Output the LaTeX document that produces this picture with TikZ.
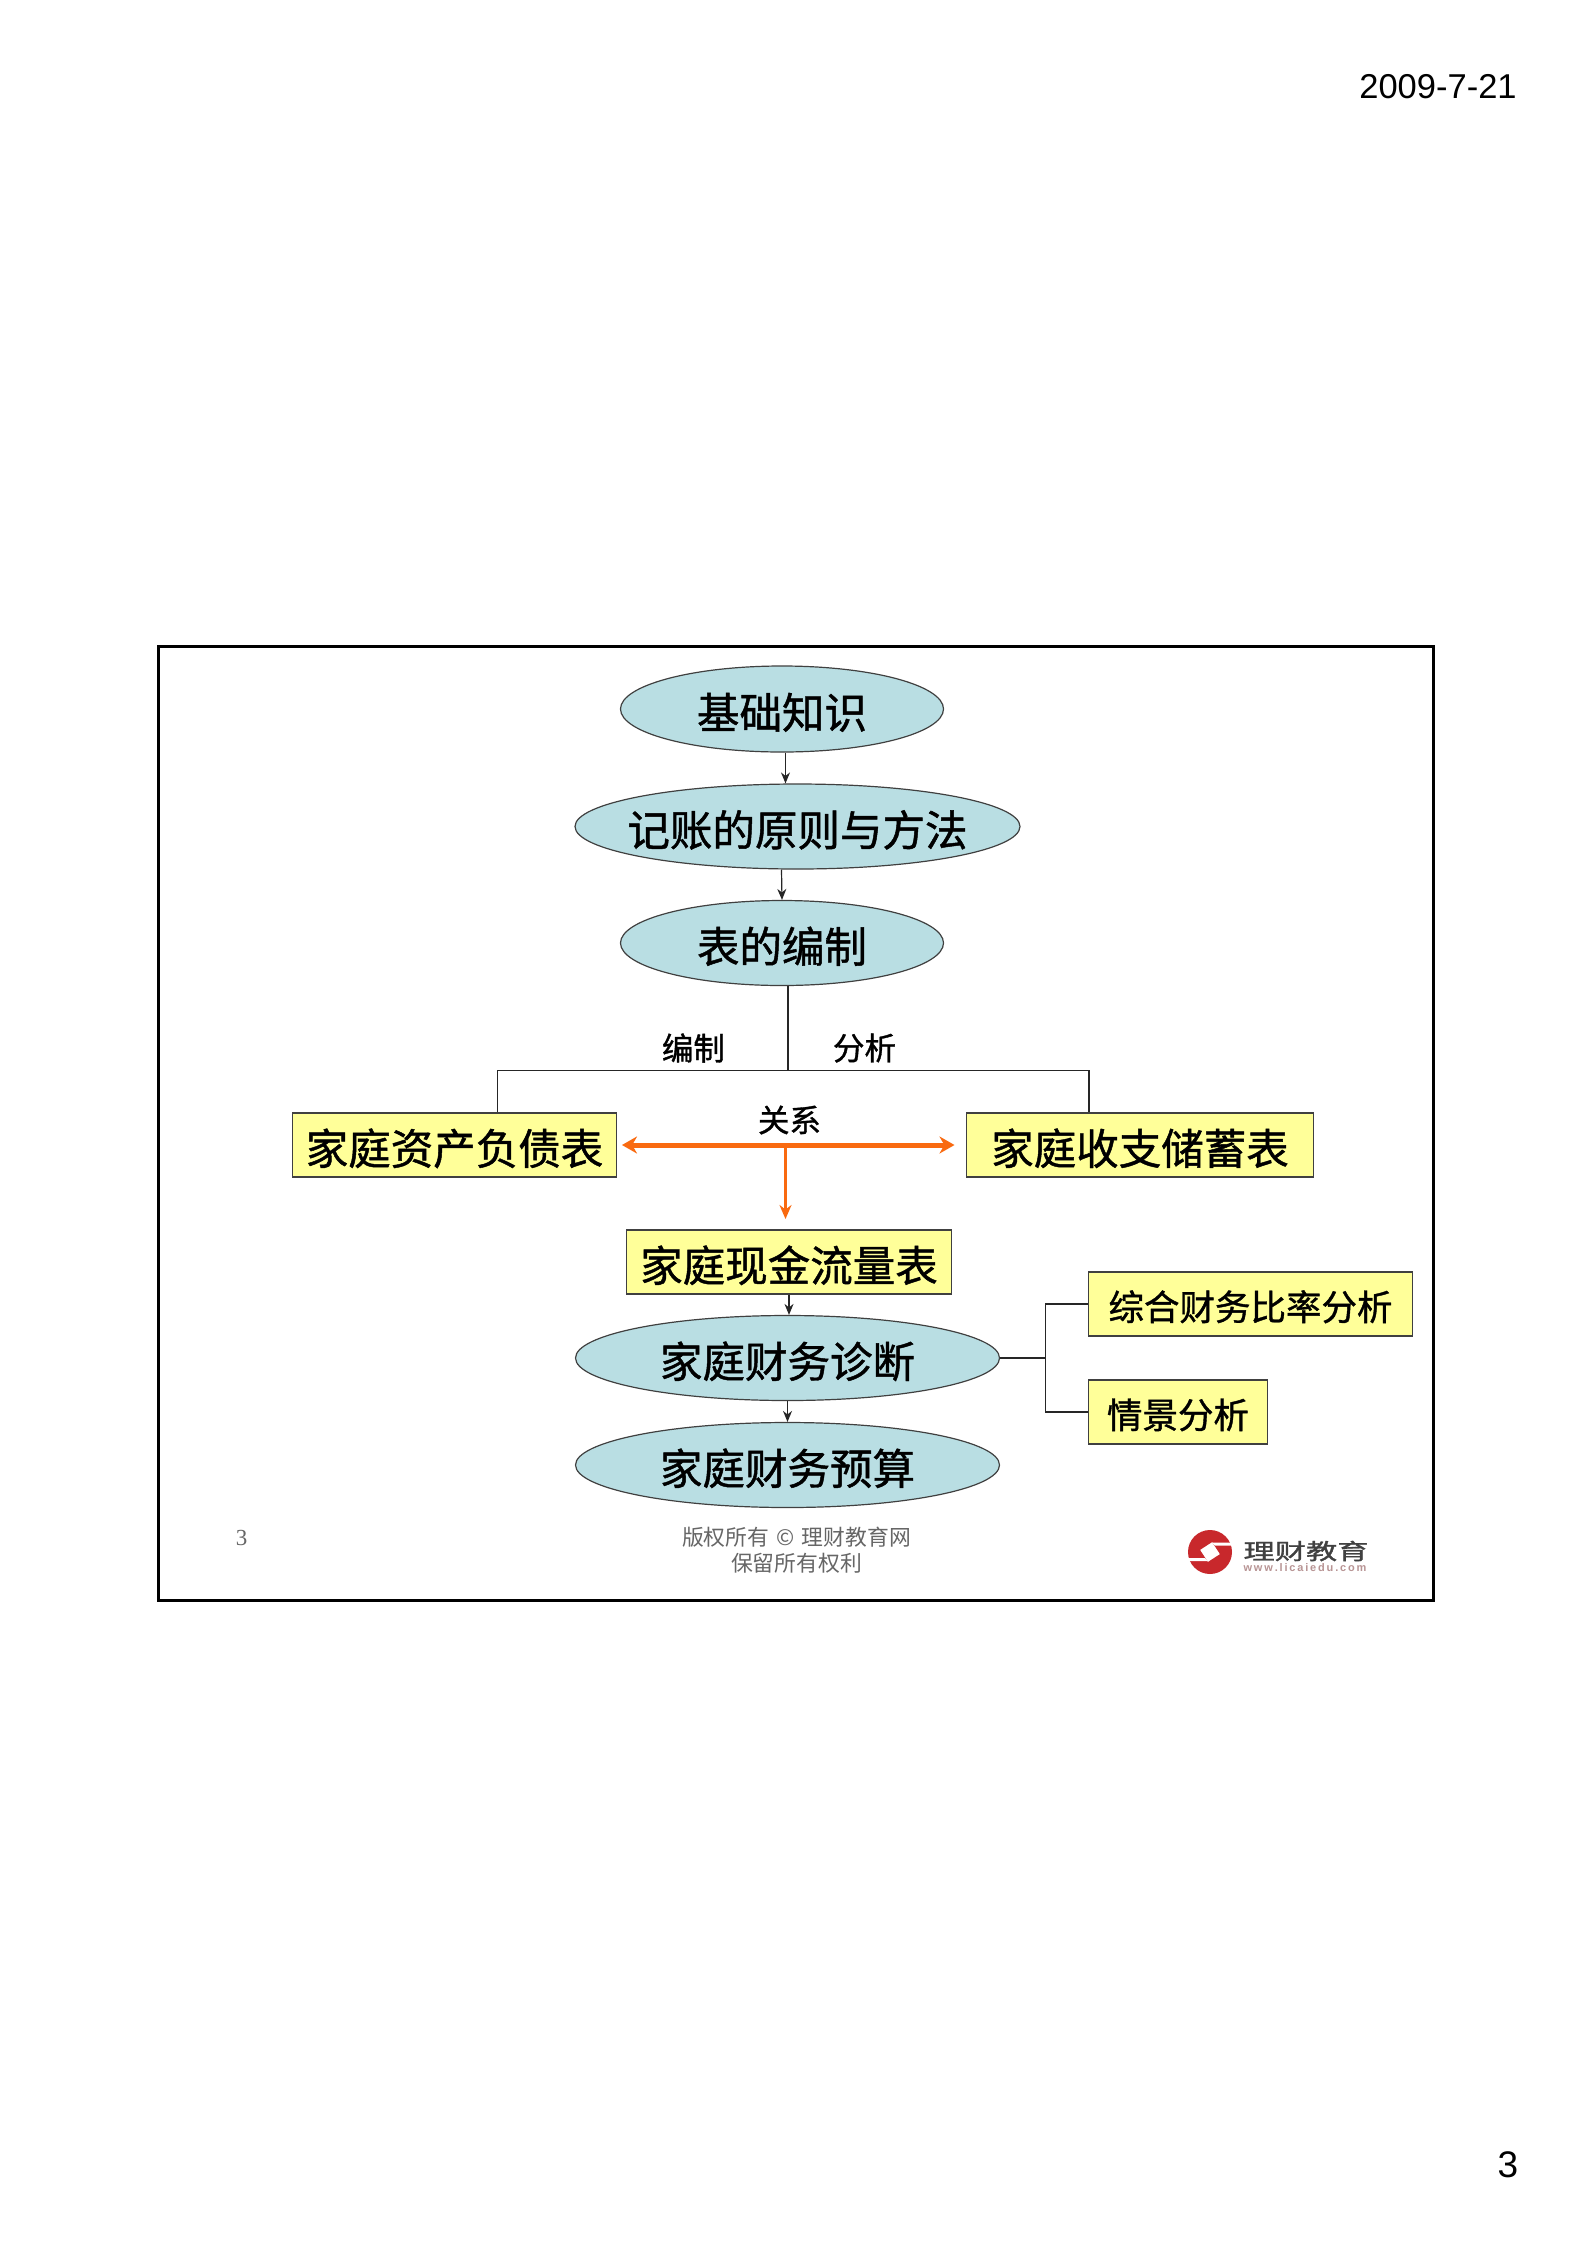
\documentclass[tikz,border=0pt]{standalone}
\usepackage{fontspec}
\setmainfont{Liberation Sans}
\newfontfamily\serifdigits{Liberation Serif}
\newfontfamily\cjk[FakeBold=1.1]{Noto Sans CJK SC}
\newfontfamily\cjkplain{Noto Sans CJK SC}
\usetikzlibrary{shapes.geometric,arrows.meta}
\definecolor{ovalfill}{HTML}{B9DEE3}
\definecolor{boxfill}{HTML}{FFFF99}
\definecolor{orangeline}{HTML}{F96A10}
\definecolor{edgegray}{HTML}{404040}
\definecolor{foot}{HTML}{666666}
\definecolor{logored}{HTML}{C8282C}
\definecolor{logoweb}{HTML}{B89494}
\newcommand{\zw}[1]{\makebox[0pt]{\raisebox{-0.46em}[0pt][0pt]{#1}}}
\tikzset{
 x=1pt,y=-1pt,
 oval/.style={ellipse,draw=edgegray,line width=1.2pt,fill=ovalfill,inner sep=0pt,text=black,font=\fontsize{42.5}{43}\cjk},
 yellowbox/.style={rectangle,draw=edgegray,line width=1.2pt,fill=boxfill,inner sep=0pt,minimum height=64pt,text=black,font=\fontsize{42.5}{43}\cjk},
 smallbox/.style={yellowbox,font=\fontsize{35.5}{36}\cjk},
 lab/.style={inner sep=0pt,font=\fontsize{31.5}{32}\cjk},
 footer/.style={inner sep=0pt,text=foot,font=\fontsize{21.8}{22}\cjkplain},
 conn/.style={draw=black!85,line width=1.2pt},
 arr/.style={conn,-{Stealth[length=11pt,width=9pt]}},
 orangearr/.style={draw=orangeline,line width=5pt,{Stealth[length=15pt,width=17pt]}-{Stealth[length=15pt,width=17pt]}},
 orangedown/.style={draw=orangeline,line width=3.4pt,-{Stealth[length=14pt,width=12pt]}},
}
\begin{document}
\begin{tikzpicture}
\useasboundingbox (0,0) rectangle (1594,2252);
\fill[white] (0,0) rectangle (1594,2252);
\node[inner sep=0pt,font=\fontsize{34.5}{35}\selectfont] (date) at (1438,87) {2009-7-21};
\node[inner sep=0pt,font=\fontsize{37}{37}\selectfont] (pg) at (1508,2165) {3};
\node[draw=black,line width=3pt,minimum width=1275pt,minimum height=954pt,inner sep=0pt] (frame) at (795.5,1123.5) {};

\begin{scope}[xshift=1.5pt]
\node[oval,minimum width=323pt,minimum height=86pt] (n1) at (780.5,709) {\zw{基础知识}};
\node[oval,minimum width=445pt,minimum height=85pt] (n2) at (796,826.5) {\zw{记账的原则与方法}};
\node[oval,minimum width=323pt,minimum height=85pt] (n3) at (780.5,943) {\zw{表的编制}};
\node[yellowbox,minimum width=324pt] (bl) at (453,1145) {\zw{家庭资产负债表}};
\node[yellowbox,minimum width=347pt] (br) at (1138.5,1145) {\zw{家庭收支储蓄表}};
\node[yellowbox,minimum width=325pt] (bc) at (787.5,1262) {\zw{家庭现金流量表}};
\node[oval,minimum width=424pt,minimum height=85pt] (n4) at (786,1358) {\zw{家庭财务诊断}};
\node[oval,minimum width=424pt,minimum height=85pt] (n5) at (786,1465) {\zw{家庭财务预算}};
\node[smallbox,minimum width=324pt] (r1) at (1249,1304) {\zw{综合财务比率分析}};
\node[smallbox,minimum width=179pt] (r2) at (1176.5,1412) {\zw{情景分析}};

\node[lab] (l1) at (692,1048) {编制};
\node[lab] (l2) at (863,1048) {分析};
\node[lab] (l3) at (788,1120) {关系};

\draw[arr] ([xshift=3.5pt]n1.south) -- ([xshift=-12pt]n2.north);
\draw[arr] ([xshift=-16pt]n2.south) -- (n3.north);
\coordinate (tj) at (786.5,1070.5);
\coordinate (tl) at (496,1070.5);
\coordinate (tr) at (1087.5,1070.5);
\draw[conn] ([xshift=6pt]n3.south) -- (tj);
\draw[conn] (bl.north -| tl) -- (tl) -- (tr) -- (br.north -| tr);
\draw[arr] (bc.south) -- ([xshift=1.5pt]n4.north);
\draw[arr] (n4.south) -- (n5.north);
\coordinate (jn) at (1044,1358);
\draw[conn] (n4.east) -- (jn);
\draw[conn] (r1.west) -| (jn);
\draw[conn] (r2.west) -| (jn);
\coordinate (ol) at (620.5,1145);
\coordinate (or) at (953,1145);
\coordinate (oc) at (784,1145);
\coordinate (oe) at (784,1219);
\draw[orangedown] (oc) -- (oe);
\draw[orangearr] (ol) -- (or);
\end{scope}

\node[inner sep=0pt,text=foot,font=\fontsize{23}{23}\serifdigits] (num) at (241.5,1538) {3};
\node[footer] (f1) at (796.5,1537) {版权所有\,\,©\,\,理财教育网};
\node[footer] (f2) at (796.5,1563.5) {保留所有权利};

% logo
\fill[logored] (1210,1552) circle (22);
\fill[white,rotate around={-12:(1210,1552)}] (1200,1552) -- (1210,1542) -- (1220,1552) -- (1210,1562) -- cycle;
\fill[white] (1212,1542.5) -- (1234,1542.5) -- (1233,1545.5) -- (1215,1545.5) -- cycle;
\fill[white] (1186,1558) -- (1205,1558) -- (1208,1561) -- (1187,1561) -- cycle;
\node[inner sep=0pt,text=black!75,font=\fontsize{22}{22}\cjk] (lg) at (1306,1551) {\scalebox{1.42}[1]{理财教育}};
\node[inner sep=0pt,text=logoweb,font=\fontsize{11}{11}\selectfont\bfseries] (lw) at (1305,1567.5) {w\,w\,w\,.\,l\,i\,c\,a\,i\,e\,d\,u\,.\,c\,o\,m};
\end{tikzpicture}
\end{document}
